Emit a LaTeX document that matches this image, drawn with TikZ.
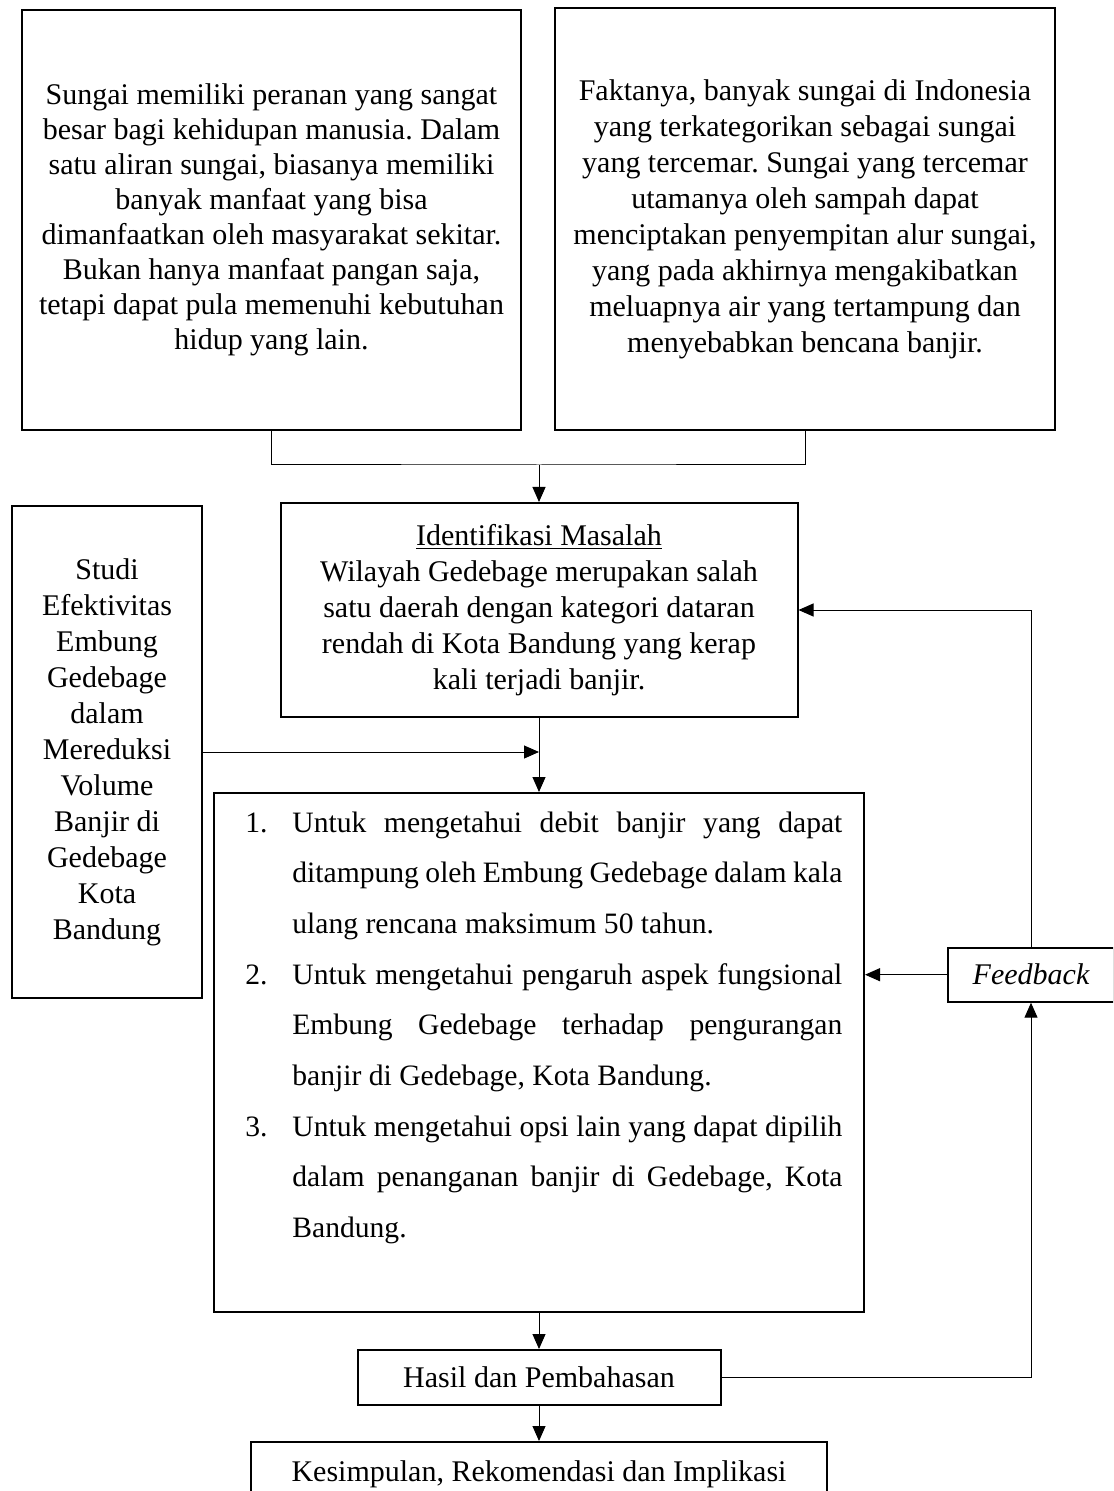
\documentclass[tikz,border=0pt]{standalone}
\usepackage{fontspec}
\setmainfont{Liberation Serif}
\usepackage{tikz}
\usetikzlibrary{arrows.meta}
\frenchspacing

\newcommand{\butir}[2]{\noindent\hangindent=23.5pt\hangafter=1\makebox[23.5pt][l]{#1}#2\par}

\begin{document}
\begin{tikzpicture}[x=0.5pt, y=-0.5pt,
	kotak/.style={draw, line width=1pt, align=center, inner sep=0pt, font=\fontsize{15}{18}\selectfont},
	panah/.style={-{Triangle[length=7.5pt,width=6.5pt]}, line width=0.5pt},
	garis/.style={line width=0.5pt}]
	\useasboundingbox (0,0) rectangle (1113,1491);
	\clip (0,0) rectangle (1113,1491);

	\node[kotak, minimum width=249.5pt, minimum height=210pt, font=\fontsize{15}{17.5}\selectfont] (latar) at (271.5,220) {
		Sungai memiliki peranan yang sangat\\
		besar bagi kehidupan manusia. Dalam\\
		satu aliran sungai, biasanya memiliki\\
		banyak manfaat yang bisa\\
		dimanfaatkan oleh masyarakat sekitar.\\
		Bukan hanya manfaat pangan saja,\\
		tetapi dapat pula memenuhi kebutuhan\\
		hidup yang lain.};
	\node[kotak, minimum width=250pt, minimum height=211pt] (fakta) at (805,219) {
		Faktanya, banyak sungai di Indonesia\\
		yang terkategorikan sebagai sungai\\
		yang tercemar. Sungai yang tercemar\\
		utamanya oleh sampah dapat\\
		menciptakan penyempitan alur sungai,\\
		yang pada akhirnya mengakibatkan\\
		meluapnya air yang tertampung dan\\
		menyebabkan bencana banjir.};
	\node[kotak, minimum width=258.5pt, minimum height=107pt] (masalah) at (539,610) {
		\underline{Identifikasi Masalah}\\
		Wilayah Gedebage merupakan salah\\
		satu daerah dengan kategori dataran\\
		rendah di Kota Bandung yang kerap\\
		kali terjadi banjir.};
	\node[kotak, minimum width=95pt, minimum height=246pt] (judul) at (107,752) {
		Studi\\ Efektivitas\\ Embung\\ Gedebage\\ dalam\\ Mereduksi\\
		Volume\\ Banjir di\\ Gedebage\\ Kota\\ Bandung};
	\node[kotak, minimum width=325pt, minimum height=259.5pt] (tujuan) at (539,1052.5) {};
	\node[anchor=base west, text width=298.5pt, align=justify, inner sep=0pt, font={\fontsize{14.8}{25.35}\selectfont\tolerance=10000\relax\hbadness=10000\relax}] (tujuanisi) at (245,832) {%
		\butir{1.}{Untuk mengetahui debit banjir yang dapat\linebreak
			ditampung oleh Embung Gedebage dalam kala\linebreak
			ulang rencana maksimum 50 tahun.}%
		\butir{2.}{Untuk mengetahui pengaruh aspek fungsional\linebreak
			Embung Gedebage terhadap pengurangan\linebreak
			banjir di Gedebage, Kota Bandung.}%
		\butir{3.}{Untuk mengetahui opsi lain yang dapat dipilih\linebreak
			dalam penanganan banjir di Gedebage, Kota\linebreak
			Bandung.}};
	\node[kotak, minimum width=181.5pt, minimum height=27.5pt] (hasil) at (539,1377.5) {Hasil dan Pembahasan};
	\node[kotak, minimum width=288pt, minimum height=32pt] (simpulan) at (539,1474) {Kesimpulan, Rekomendasi dan Implikasi};
	\node[kotak, minimum width=83pt, minimum height=27pt, font=\fontsize{15}{18}\selectfont\itshape] (feedback) at (1031,974.7) {Feedback};

	\coordinate (gabung) at (539,465);
	\draw[garis] (latar.south) |- (gabung) -| (fakta.south);
	\draw[panah] (gabung) -- (masalah.north);
	\draw[panah] (judul.east) -- (judul.east -| masalah.south);
	\draw[panah] (masalah.south) -- (tujuan.north);
	\draw[panah] (tujuan.south) -- (hasil.north);
	\draw[panah] (hasil.south) -- (simpulan.north);
	\draw[panah] (feedback.west) -- (feedback.west -| tujuan.east);
	\draw[panah] (feedback.north) |- (masalah.east);
	\draw[panah] (hasil.east) -| (feedback.south);
\end{tikzpicture}
\end{document}
